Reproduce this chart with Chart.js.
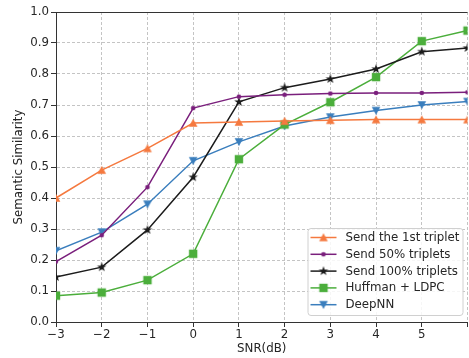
<!DOCTYPE html>
<html>
<head>
<meta charset="utf-8">
<script src="https://cdn.jsdelivr.net/npm/chart.js@4.4.1/dist/chart.umd.min.js"></script>
<style>
  html, body { margin: 0; padding: 0; background: #fff; overflow: hidden; }
  #wrap { width: 473px; height: 358px; }
</style>
</head>
<body>
<div id="wrap"><canvas id="simChart"></canvas></div>
<script>
const snr = [-3, -2, -1, 0, 1, 2, 3, 4, 5, 6];
const firstTriplet = [0.40, 0.49, 0.56, 0.642, 0.645, 0.648, 0.651, 0.653, 0.653, 0.653];
const halfTriplets = [0.195, 0.28, 0.435, 0.69, 0.727, 0.733, 0.737, 0.739, 0.739, 0.741];
const allTriplets = [0.145, 0.177, 0.297, 0.467, 0.710, 0.756, 0.784, 0.816, 0.872, 0.884];
const huffmanLdpc = [0.085, 0.095, 0.135, 0.22, 0.525, 0.637, 0.709, 0.790, 0.906, 0.940];
const deepNN = [0.23, 0.29, 0.38, 0.52, 0.581, 0.632, 0.661, 0.682, 0.700, 0.711];
const yTicks = [0, 0.1, 0.2, 0.3, 0.4, 0.5, 0.6, 0.7, 0.8, 0.9, 1.0];

const FONT = 'DejaVu Sans';
const FONT_SIZE = 11.8;

// marker sprites, so the plot and the legend use the same shapes
function makeMarker(shape, color) {
    const c = document.createElement('canvas');
    c.width = 14; c.height = 14;
    const g = c.getContext('2d');
    g.fillStyle = color;
    g.translate(7, 7);
    g.beginPath();
    if (shape === 'up') {
        g.moveTo(0, -4.3); g.lineTo(4.3, 3.8); g.lineTo(-4.3, 3.8);
    } else if (shape === 'down') {
        g.moveTo(0, 4.3); g.lineTo(4.3, -3.8); g.lineTo(-4.3, -3.8);
    } else if (shape === 'square') {
        g.rect(-4.2, -4.2, 8.4, 8.4);
    } else if (shape === 'dot') {
        g.arc(0, 0, 2.3, 0, Math.PI * 2);
    } else if (shape === 'star') {
        for (let i = 0; i < 10; i++) {
            const r = i % 2 === 0 ? 5 : 2;
            const a = -Math.PI / 2 + i * Math.PI / 5;
            g.lineTo(r * Math.cos(a), r * Math.sin(a));
        }
    }
    g.closePath();
    g.fill();
    return c;
}

const series = [
    { label: 'Send the 1st triplet', data: firstTriplet, color: '#f5793f', marker: 'up' },
    { label: 'Send 50% triplets', data: halfTriplets, color: '#7a1f7c', marker: 'dot' },
    { label: 'Send 100% triplets', data: allTriplets, color: '#1c1c1c', marker: 'star' },
    { label: 'Huffman + LDPC', data: huffmanLdpc, color: '#4bae3b', marker: 'square' },
    { label: 'DeepNN', data: deepNN, color: '#3a7ebd', marker: 'down' }
];

const datasets = series.map(s => {
    const sprite = makeMarker(s.marker, s.color);
    return {
        label: s.label,
        data: snr.map((x, i) => ({ x: x, y: s.data[i] })),
        borderColor: s.color,
        backgroundColor: s.color,
        borderWidth: 1.5,
        pointStyle: sprite,
        sprite: sprite,
        tension: 0
    };
});

const minus = v => String(v).replace('-', '\u2212');

// box legend in the lower right corner plus the top spine
const framePlugin = {
    id: 'frame',
    afterDraw(chart) {
        const ctx = chart.ctx;
        const area = chart.chartArea;
        ctx.save();
        ctx.strokeStyle = '#333';
        ctx.lineWidth = 1;
        ctx.beginPath();
        ctx.moveTo(area.left, area.top + 0.5);
        ctx.lineTo(area.right, area.top + 0.5);
        ctx.stroke();

        const boxW = 155, boxH = 87;
        const bx = area.right - 5 - boxW;
        const by = area.bottom - 7 - boxH;
        ctx.fillStyle = 'rgba(255,255,255,0.85)';
        ctx.strokeStyle = '#d0d0d0';
        ctx.beginPath();
        ctx.roundRect(bx + 0.5, by + 0.5, boxW, boxH, 3);
        ctx.fill();
        ctx.stroke();

        ctx.font = FONT_SIZE + 'px "' + FONT + '"';
        ctx.textBaseline = 'middle';
        ctx.textAlign = 'left';
        chart.data.datasets.forEach((ds, i) => {
            const y = by + 9.5 + i * 16.8;
            ctx.strokeStyle = ds.borderColor;
            ctx.lineWidth = 1.5;
            ctx.beginPath();
            ctx.moveTo(bx + 3, y);
            ctx.lineTo(bx + 29, y);
            ctx.stroke();
            ctx.drawImage(ds.sprite, bx + 16 - 7, y - 7);
            ctx.fillStyle = '#262626';
            ctx.fillText(ds.label, bx + 38, y + 0.5);
        });
        ctx.restore();
    }
};

new Chart(document.getElementById('simChart').getContext('2d'), {
    type: 'line',
    data: { datasets: datasets },
    plugins: [framePlugin],
    options: {
        responsive: true,
        maintainAspectRatio: false,
        animation: false,
        layout: { padding: { top: 12, right: 1, left: 0, bottom: 0 } },
        plugins: {
            legend: { display: false },
            tooltip: { enabled: false }
        },
        scales: {
            x: {
                type: 'linear',
                min: -3,
                max: 6,
                afterFit: scale => { scale.height = 36; },
                ticks: {
                    stepSize: 1,
                    padding: 1,
                    color: '#262626',
                    font: { family: FONT, size: FONT_SIZE },
                    callback: v => (v === 6 ? '' : minus(v))
                },
                grid: { color: '#c4c4c4', lineWidth: 1, tickColor: '#333', tickLength: 5 },
                border: { color: '#333', width: 1, dash: [3, 2] },
                title: {
                    display: true,
                    text: 'SNR(dB)',
                    color: '#262626',
                    font: { family: FONT, size: FONT_SIZE },
                    padding: { top: 0, bottom: 2 }
                }
            },
            y: {
                min: 0,
                max: 1,
                afterFit: scale => { scale.width = 56; },
                afterBuildTicks: scale => { scale.ticks = yTicks.map(v => ({ value: v })); },
                ticks: {
                    padding: 2,
                    color: '#262626',
                    font: { family: FONT, size: FONT_SIZE },
                    callback: v => v.toFixed(1)
                },
                grid: { color: '#c4c4c4', lineWidth: 1, tickColor: '#333', tickLength: 5 },
                border: { color: '#333', width: 1, dash: [3, 2] },
                title: {
                    display: true,
                    text: 'Semantic Similarity',
                    color: '#262626',
                    font: { family: FONT, size: FONT_SIZE },
                    padding: { top: 12, bottom: 0 }
                }
            }
        }
    }
});
</script>
</body>
</html>
